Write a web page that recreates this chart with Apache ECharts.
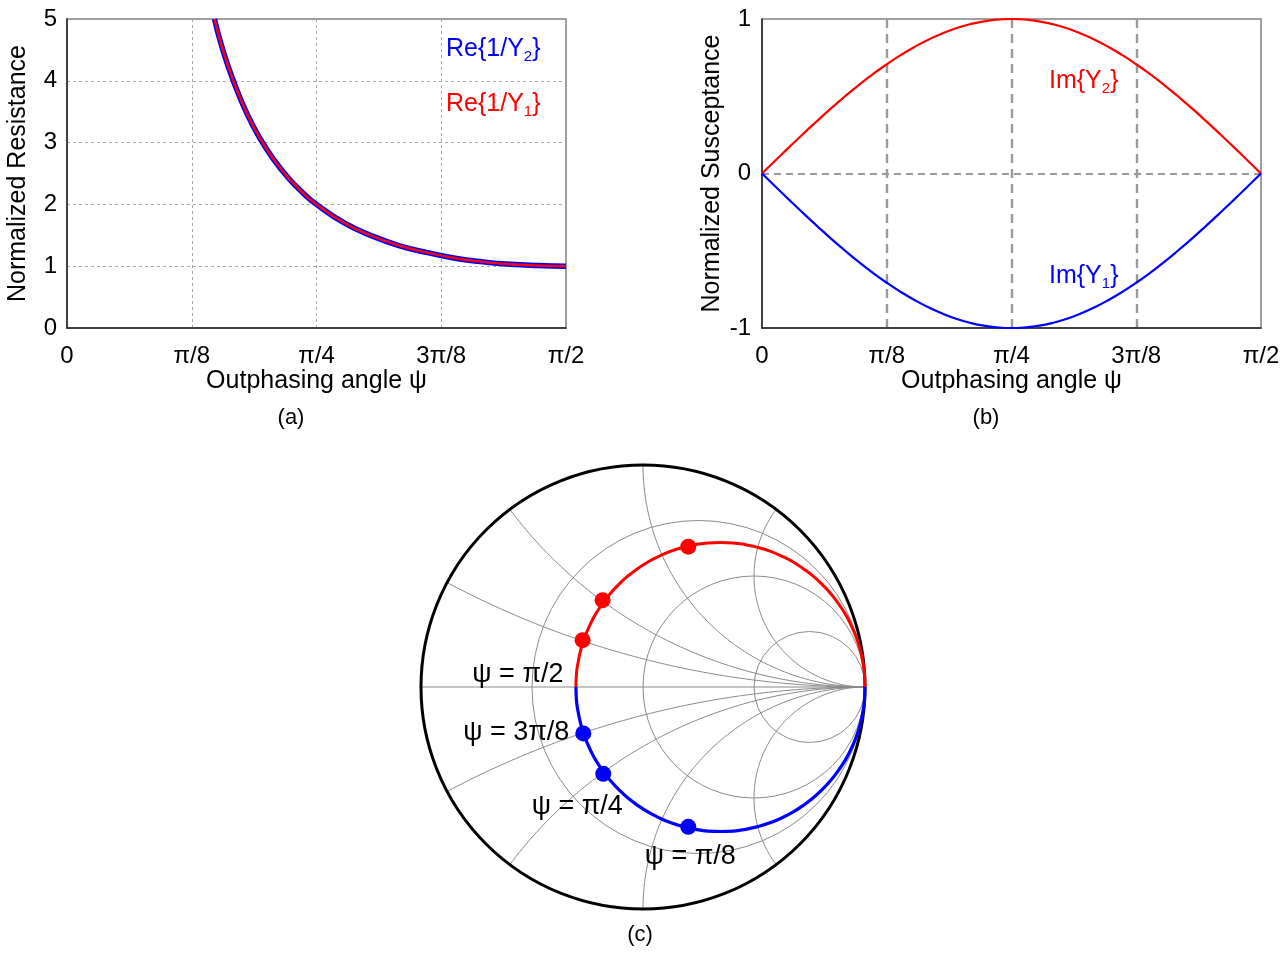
<!DOCTYPE html>
<html>
<head>
<meta charset="utf-8">
<script src="https://cdn.jsdelivr.net/npm/echarts@6/dist/echarts.min.js"></script>
<style>
html,body{margin:0;padding:0;background:#fff;}
#c{width:1288px;height:954px;}
</style>
</head>
<body>
<div id="c"></div>
<script>
// ---------------- DATA ----------------
// x axis in degrees of outphasing angle psi (0 .. 90 deg = 0 .. pi/2)
const xTickValues = [0, 22.5, 45, 67.5, 90];
const xTickLabels = ['0', 'π/8', 'π/4', '3π/8', 'π/2'];

// (a) normalized resistance
const psiA = [26.6, 28, 30, 32.5, 35, 37.5, 40, 42.5, 45, 50, 55, 60, 65, 70, 75, 80, 85, 90];
const reInvY2 = [5.0, 4.53, 4.0, 3.46, 3.04, 2.70, 2.42, 2.19, 2.0, 1.70, 1.49, 1.33, 1.22, 1.13, 1.07, 1.03, 1.01, 1.0];
const reInvY1 = [5.0, 4.53, 4.0, 3.46, 3.04, 2.70, 2.42, 2.19, 2.0, 1.70, 1.49, 1.33, 1.22, 1.13, 1.07, 1.03, 1.01, 1.0];

// (b) normalized susceptance
const psiB = [0, 2.5, 5, 7.5, 10, 12.5, 15, 17.5, 20, 22.5, 25, 27.5, 30, 32.5, 35, 37.5, 40, 42.5, 45,
              47.5, 50, 52.5, 55, 57.5, 60, 62.5, 65, 67.5, 70, 72.5, 75, 77.5, 80, 82.5, 85, 87.5, 90];
const imY2 = [0, 0.087, 0.174, 0.259, 0.342, 0.423, 0.5, 0.574, 0.643, 0.707, 0.766, 0.819, 0.866, 0.906, 0.94, 0.966, 0.985, 0.996, 1.0,
              0.996, 0.985, 0.966, 0.94, 0.906, 0.866, 0.819, 0.766, 0.707, 0.643, 0.574, 0.5, 0.423, 0.342, 0.259, 0.174, 0.087, 0];
const imY1 = [0, -0.087, -0.174, -0.259, -0.342, -0.423, -0.5, -0.574, -0.643, -0.707, -0.766, -0.819, -0.866, -0.906, -0.94, -0.966, -0.985, -0.996, -1.0,
              -0.996, -0.985, -0.966, -0.94, -0.906, -0.866, -0.819, -0.766, -0.707, -0.643, -0.574, -0.5, -0.423, -0.342, -0.259, -0.174, -0.087, 0];

// (c) Smith chart grid values
const smithResistances = [1 / 3, 1, 3];
const smithReactances = [0.25, 0.5, 1, 2, -0.25, -0.5, -1, -2];

// (c) loci in reflection-coefficient plane
const locusRe = [1.000, 0.998, 0.990, 0.978, 0.961, 0.939, 0.913, 0.882, 0.848, 0.809, 0.767, 0.722, 0.675, 0.624, 0.572, 0.517, 0.462, 0.406, 0.349,
                 0.292, 0.236, 0.181, 0.126, 0.074, 0.024, -0.024, -0.069, -0.111, -0.150, -0.184, -0.215, -0.241, -0.263, -0.280, -0.292, -0.300, -0.302];
const locusY2Im = [0.000, 0.057, 0.113, 0.168, 0.223, 0.275, 0.326, 0.373, 0.418, 0.460, 0.499, 0.533, 0.564, 0.590, 0.612, 0.629, 0.641, 0.649, 0.651,
                   0.649, 0.641, 0.629, 0.612, 0.590, 0.564, 0.533, 0.499, 0.460, 0.418, 0.373, 0.326, 0.275, 0.223, 0.168, 0.113, 0.057, 0.000];
const locusY1Im = [0.000, -0.057, -0.113, -0.168, -0.223, -0.275, -0.326, -0.373, -0.418, -0.460, -0.499, -0.533, -0.564, -0.590, -0.612, -0.629, -0.641, -0.649, -0.651,
                   -0.649, -0.641, -0.629, -0.612, -0.590, -0.564, -0.533, -0.499, -0.460, -0.418, -0.373, -0.326, -0.275, -0.223, -0.168, -0.113, -0.057, 0.000];

// markers at psi = pi/8, pi/4, 3pi/8
const markY2Re = [0.204, -0.182, -0.272];
const markY2Im = [0.632, 0.391, 0.211];
const markY1Re = [0.204, -0.179, -0.269];
const markY1Im = [-0.630, -0.391, -0.209];

// psi annotations (anchored on the Y1 markers and the pi/2 point)
const psiLabels = ['ψ = π/8', 'ψ = π/4', 'ψ = 3π/8', 'ψ = π/2'];
const psiLabelRe = [0.204, -0.179, -0.269, -0.302];
const psiLabelIm = [-0.630, -0.391, -0.209, 0.000];

// ---------------- LAYOUT / STYLE ----------------
const FONT = '"Liberation Sans", Arial, Helvetica, sans-serif';
const BLUE = '#0000ff';
const RED = '#ff0000';
const psiLabelOffsets = [[2, 30], [-26, 33], [-67, -1], [-58, -12]];

function pair(xs, ys) { return xs.map((x, i) => [x, ys[i]]); }

function tickFmt(v) {
  const i = xTickValues.findIndex(t => Math.abs(t - v) < 1e-6);
  return i >= 0 ? xTickLabels[i] : '';
}

function xAxisTop(gridIndex) {
  return {
    type: 'value', gridIndex, min: 0, max: 90, interval: 22.5,
    name: 'Outphasing angle ψ', nameLocation: 'middle', nameGap: 41,
    nameTextStyle: { fontSize: 25, color: '#000', fontFamily: FONT },
    axisLine: { show: true, onZero: false, lineStyle: { color: '#222', width: 1.5 } },
    axisTick: { show: false },
    axisLabel: { formatter: tickFmt, fontSize: 24, color: '#000', fontFamily: FONT, margin: 16 },
    splitLine: gridIndex === 0
      ? { show: true, showMinLine: false, showMaxLine: false, lineStyle: { color: '#a8a8a8', width: 1, type: [3, 3] } }
      : { show: true, showMinLine: false, showMaxLine: false, lineStyle: { color: '#999', width: 2.4, type: [9, 6] } }
  };
}

function smithGrid(params, api) {
  const r = api.value(2);
  const c = api.coord([r / (1 + r), 0]);
  const rad = api.size([1 / (1 + r), 0])[0];
  return { type: 'circle', shape: { cx: c[0], cy: c[1], r: rad },
    style: { fill: 'none', stroke: '#8a8a8a', lineWidth: 1 } };
}

function smithArc(params, api) {
  const xv = api.value(2);
  const a = Math.abs(xv), s = Math.sign(xv);
  const R = 1 / a;
  const px = (a * a - 1) / (a * a + 1), py = 2 * a / (a * a + 1);
  let t0 = Math.atan2(py - R, px - 1);
  if (t0 < 0) t0 += 2 * Math.PI;
  const t1 = 1.5 * Math.PI;
  const pts = [];
  const N = 80;
  for (let k = 0; k <= N; k++) {
    const t = t0 + (t1 - t0) * k / N;
    pts.push(api.coord([1 + R * Math.cos(t), s * (R + R * Math.sin(t))]));
  }
  return { type: 'polyline', shape: { points: pts },
    style: { fill: 'none', stroke: '#8a8a8a', lineWidth: 1 } };
}

function smithFrame(params, api) {
  const c = api.coord([0, 0]);
  const l = api.coord([-1, 0]);
  const r = api.coord([1, 0]);
  const rad = api.size([1, 0])[0];
  return { type: 'group', children: [
    { type: 'line', shape: { x1: l[0], y1: l[1], x2: r[0], y2: r[1] }, style: { stroke: '#8a8a8a', lineWidth: 1 } },
    { type: 'circle', shape: { cx: c[0], cy: c[1], r: rad }, style: { fill: 'none', stroke: '#000', lineWidth: 3 } }
  ] };
}

const chart = echarts.init(document.getElementById('c'), null, { renderer: 'canvas' });

const richSub = (color) => ({ s: { fontSize: 15, fill: color, fontFamily: FONT, verticalAlign: 'bottom', lineHeight: 15 } });
const annot = (x, y, text, color) => ({ type: 'text', x, y, style: { text, fontSize: 25, lineHeight: 30, fill: color, fontFamily: FONT, verticalAlign: 'middle', rich: richSub(color) } });

const option = {
  backgroundColor: '#fff',
  animation: false,
  textStyle: { fontFamily: FONT },
  grid: [
    { left: 67, top: 19, width: 499, height: 309, show: true, borderColor: '#808080', borderWidth: 1.5, backgroundColor: 'transparent' },
    { left: 762, top: 19, width: 499, height: 309, show: true, borderColor: '#808080', borderWidth: 1.5, backgroundColor: 'transparent' },
    { left: 421, top: 465, width: 444, height: 444 }
  ],
  xAxis: [
    xAxisTop(0),
    xAxisTop(1),
    { type: 'value', gridIndex: 2, min: -1, max: 1, show: false }
  ],
  yAxis: [
    {
      type: 'value', gridIndex: 0, min: 0, max: 5, interval: 1,
      name: 'Normalized Resistance', nameLocation: 'middle', nameGap: 36,
      nameTextStyle: { fontSize: 25, color: '#000', fontFamily: FONT },
      axisLine: { show: true, lineStyle: { color: '#222', width: 1.5 } },
      axisTick: { show: false },
      axisLabel: { fontSize: 24, color: '#000', fontFamily: FONT, margin: 10 },
      splitLine: { show: true, showMinLine: false, showMaxLine: false, lineStyle: { color: '#a8a8a8', width: 1, type: [3, 3] } }
    },
    {
      type: 'value', gridIndex: 1, min: -1, max: 1, interval: 1,
      name: 'Normalized Susceptance', nameLocation: 'middle', nameGap: 37,
      nameTextStyle: { fontSize: 25, color: '#000', fontFamily: FONT },
      axisLine: { show: true, onZero: false, lineStyle: { color: '#222', width: 1.5 } },
      axisTick: { show: false },
      axisLabel: { fontSize: 24, color: '#000', fontFamily: FONT, margin: 11 },
      splitLine: { show: true, showMinLine: false, showMaxLine: false, lineStyle: { color: '#999', width: 2, type: [7, 5] } }
    },
    { type: 'value', gridIndex: 2, min: -1, max: 1, show: false }
  ],
  series: [
    // (a)
    { type: 'line', xAxisIndex: 0, yAxisIndex: 0, data: pair(psiA, reInvY2), smooth: true, showSymbol: false,
      lineStyle: { color: BLUE, width: 5.5 }, z: 3 },
    { type: 'line', xAxisIndex: 0, yAxisIndex: 0, data: pair(psiA, reInvY1), smooth: true, showSymbol: false,
      lineStyle: { color: RED, width: 2.5 }, z: 4 },
    // (b)
    { type: 'line', xAxisIndex: 1, yAxisIndex: 1, data: pair(psiB, imY2), smooth: true, showSymbol: false,
      lineStyle: { color: RED, width: 2.2 }, z: 3 },
    { type: 'line', xAxisIndex: 1, yAxisIndex: 1, data: pair(psiB, imY1), smooth: true, showSymbol: false,
      lineStyle: { color: BLUE, width: 2.2 }, z: 3 },
    // (c) Smith chart grid
    { type: 'custom', xAxisIndex: 2, yAxisIndex: 2, renderItem: smithGrid, silent: true, clip: false,
      data: smithResistances.map(r => [0, 0, r]), z: 1 },
    { type: 'custom', xAxisIndex: 2, yAxisIndex: 2, renderItem: smithArc, silent: true, clip: false,
      data: smithReactances.map(x => [0, 0, x]), z: 1 },
    { type: 'custom', xAxisIndex: 2, yAxisIndex: 2, renderItem: smithFrame, silent: true, clip: false,
      data: [[0, 0, 0]], z: 2 },
    // (c) loci
    { type: 'line', xAxisIndex: 2, yAxisIndex: 2, data: pair(locusRe, locusY2Im), smooth: true, showSymbol: false,
      lineStyle: { color: RED, width: 3 }, z: 3 },
    { type: 'line', xAxisIndex: 2, yAxisIndex: 2, data: pair(locusRe, locusY1Im), smooth: true, showSymbol: false,
      lineStyle: { color: BLUE, width: 3.2 }, z: 3 },
    { type: 'scatter', xAxisIndex: 2, yAxisIndex: 2, data: pair(markY2Re, markY2Im), symbolSize: 16,
      itemStyle: { color: RED, opacity: 1 }, z: 4 },
    { type: 'scatter', xAxisIndex: 2, yAxisIndex: 2, data: pair(markY1Re, markY1Im), symbolSize: 16,
      itemStyle: { color: BLUE, opacity: 1 }, z: 4 },
    { type: 'scatter', xAxisIndex: 2, yAxisIndex: 2, symbolSize: 0, silent: true, z: 5,
      itemStyle: { opacity: 1 },
      data: psiLabelRe.map((x, i) => ({ value: [x, psiLabelIm[i]], label: { offset: psiLabelOffsets[i] } })),
      label: { show: true, position: 'inside', formatter: p => psiLabels[p.dataIndex],
        fontSize: 27, color: '#000', opacity: 1, textBorderWidth: 0, fontFamily: FONT } }
  ],
  graphic: [
    { type: 'text', x: 291, y: 418, style: { text: '(a)', fontSize: 22, fill: '#000', fontFamily: FONT, align: 'center', verticalAlign: 'middle' } },
    { type: 'text', x: 986, y: 418, style: { text: '(b)', fontSize: 22, fill: '#000', fontFamily: FONT, align: 'center', verticalAlign: 'middle' } },
    { type: 'text', x: 640, y: 935, style: { text: '(c)', fontSize: 22, fill: '#000', fontFamily: FONT, align: 'center', verticalAlign: 'middle' } },
    annot(446, 49, 'Re{1/Y{s|2}}', BLUE),
    annot(446, 104, 'Re{1/Y{s|1}}', RED),
    annot(1049, 81, 'Im{Y{s|2}}', RED),
    annot(1049, 276, 'Im{Y{s|1}}', BLUE)
  ]
};

chart.setOption(option);
</script>
</body>
</html>
